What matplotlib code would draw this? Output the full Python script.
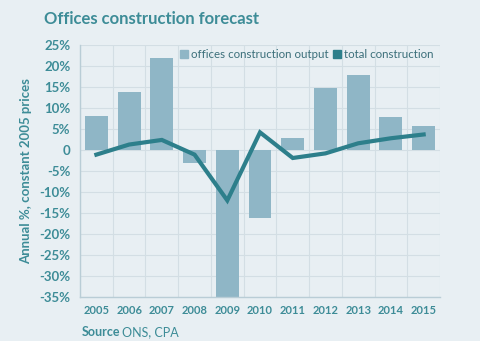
import matplotlib
matplotlib.use("Agg")
import matplotlib.pyplot as plt
import numpy as np
from matplotlib.patches import Patch

years = ["2005", "2006", "2007", "2008", "2009", "2010", "2011", "2012", "2013", "2014", "2015"]
offices_output = [8.0, 13.8, 22.0, -3.1, -35.0, -16.2, 2.9, 14.8, 17.9, 7.9, 5.8]
total_construction = [-1.1, 1.3, 2.4, -1.1, -12.0, 4.2, -1.9, -0.8, 1.6, 2.8, 3.7]
ytick_vals = [25, 20, 15, 10, 5, 0, -5, -10, -15, -20, -25, -30, -35]
ytick_labels = ["25%", "20%", "15%", "10%", "5%", "0", "-5%", "-10%", "-15%", "-20%", "-25%", "-30%", "-35%"]

bg = "#e8eff3"
bar_c = "#8fb6c6"
line_c = "#2d7f8b"
text_c = "#3d8c97"
grid_c = "#d3dee4"

plt.rcParams['font.family'] = ['Lato', 'DejaVu Sans']

fig = plt.figure(figsize=(4.8, 3.41), dpi=100, facecolor=bg)
ax = fig.add_axes([0.1667, 0.129, 0.75, 0.739])
ax.set_facecolor(bg)

x = np.arange(len(years))
ax.bar(x, offices_output, width=0.7, color=bar_c, zorder=2)
ax.plot(x, total_construction, color=line_c, lw=3, zorder=3, solid_joinstyle='miter')

ax.set_xlim(-0.5, len(years) - 0.5)
ax.set_ylim(-35, 25)
ax.set_yticks(ytick_vals)
ax.set_yticklabels(ytick_labels)
ax.set_xticks(x)
ax.set_xticklabels(years)
ax.set_xticks(np.arange(-0.5, len(years), 1), minor=True)
ax.grid(False)
ax.grid(True, which='minor', axis='x', color=grid_c, lw=0.8, zorder=0)
ax.grid(True, which='major', axis='y', color=grid_c, lw=0.8, zorder=0)
ax.tick_params(which='both', length=0)
ax.tick_params(axis='y', labelsize=9.5, labelcolor=text_c, pad=7)
ax.tick_params(axis='x', labelsize=8, labelcolor=text_c, pad=6)
for lab in ax.get_xticklabels() + ax.get_yticklabels():
    lab.set_fontweight('bold')

for s in ['top', 'right']:
    ax.spines[s].set_visible(False)
for s in ['left', 'bottom']:
    ax.spines[s].set_color("#b9cdd6")
    ax.spines[s].set_linewidth(1)

ax.set_ylabel("Annual %, constant 2005 prices", color=text_c, fontsize=9.5,
              fontweight='bold', labelpad=5)

handles = [Patch(color=bar_c), Patch(color=line_c)]
leg = ax.legend(handles, ["offices construction output", "total construction"],
                loc='upper right', bbox_to_anchor=(1.0, 1.01), ncol=2, frameon=False,
                fontsize=8.3, handlelength=0.7, handleheight=0.7, handletextpad=0.25,
                columnspacing=0.35, borderaxespad=0.2)
for t in leg.get_texts():
    t.set_color("#3b6f7a")

fig.text(0.092, 0.945, "Offices construction forecast", color=text_c,
         fontsize=12, fontweight='bold', va='center', ha='left')
fig.text(0.171, 0.026, "Source", color=text_c, fontsize=9, fontweight='bold',
         va='center', ha='left')
fig.text(0.254, 0.026, "ONS, CPA", color=text_c, fontsize=9,
         va='center', ha='left')

fig.savefig("out.png", dpi=100, facecolor=bg)
